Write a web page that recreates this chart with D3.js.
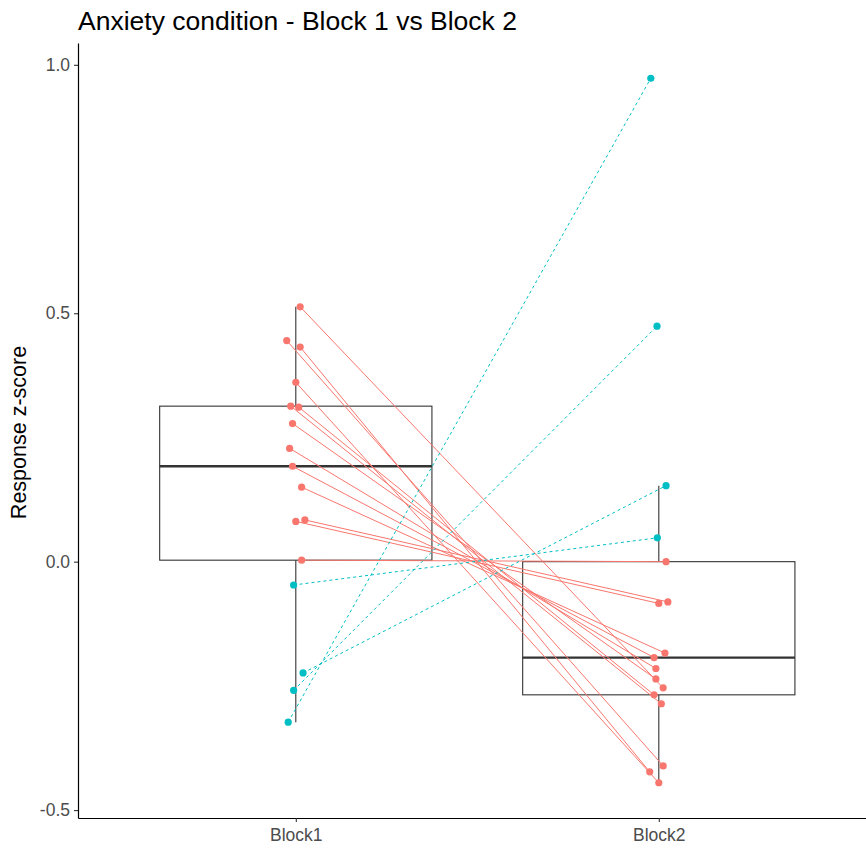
<!DOCTYPE html>
<html>
<head>
<meta charset="utf-8">
<script src="https://cdn.jsdelivr.net/npm/d3@7"></script>
<style>
  body { margin: 0; background: #fff; }
  svg { display: block; font-family: "Liberation Sans", Arial, sans-serif; }
</style>
</head>
<body>
<svg id="chart" width="866" height="850"></svg>
<script>
// values, one entry per subject (Block1 -> Block2)
var categories = ['Block1', 'Block2'];
var block1 = [0.513, 0.445, 0.432, 0.361, 0.313, 0.311, 0.278, 0.228, 0.192, 0.150, 0.081, 0.084, 0.003,
              -0.047, -0.224, -0.259, -0.323];
var block2 = [-0.254, -0.411, -0.423, -0.445, -0.286, -0.268, -0.236, -0.215, -0.193, -0.184, -0.084, -0.081, 0.000,
              0.048, 0.153, 0.474, 0.973];
// horizontal jitter of each point, in category units
var jitter1 = [0.012, -0.025, 0.012, 0.000, -0.014, 0.008, -0.009, -0.017, -0.009, 0.016, 0.000, 0.025, 0.016,
               -0.006, 0.020, -0.006, -0.021];
var jitter2 = [0.012, 0.012, -0.025, 0.000, 0.007, -0.013, -0.008, -0.008, -0.013, 0.017, 0.000, 0.025, 0.020,
               -0.004, 0.020, -0.005, -0.022];
var yTicks = [-0.5, 0, 0.5, 1.0];
var yTickLabels = ['-0.5', '0.0', '0.5', '1.0'];
var colours = { down: '#F8766D', up: '#00BFC4' };

(function () {
  var svg = d3.select('#chart'),
      mLeft = 78, mTop = 43, mBottom = 818;

  var all = block1.concat(block2),
      ext = d3.extent(all),
      pad = (ext[1] - ext[0]) * 0.05;

  var x = d3.scaleLinear().domain([0.4, 2.6]).range([mLeft, mLeft + 2.2 * 363]);
  var y = d3.scaleLinear().domain([ext[0] - pad, ext[1] + pad]).range([mBottom, mTop]);

  // boxplots (R type-7 quantiles, whiskers to 1.5 IQR)
  var boxes = [block1, block2].map(function (vals, i) {
    var s = vals.slice().sort(d3.ascending),
        q1 = d3.quantile(s, 0.25), med = d3.quantile(s, 0.5), q3 = d3.quantile(s, 0.75),
        iqr = q3 - q1,
        lo = d3.min(s.filter(function (v) { return v >= q1 - 1.5 * iqr; })),
        hi = d3.max(s.filter(function (v) { return v <= q3 + 1.5 * iqr; }));
    return { pos: i + 1, q1: q1, med: med, q3: q3, lo: lo, hi: hi };
  });

  var bx = svg.append('g').selectAll('g').data(boxes).enter().append('g');
  bx.append('line')
    .attr('x1', function (d) { return x(d.pos); }).attr('x2', function (d) { return x(d.pos); })
    .attr('y1', function (d) { return y(d.q3); }).attr('y2', function (d) { return y(d.hi); })
    .attr('stroke', '#333').attr('stroke-width', 1.1);
  bx.append('line')
    .attr('x1', function (d) { return x(d.pos); }).attr('x2', function (d) { return x(d.pos); })
    .attr('y1', function (d) { return y(d.q1); }).attr('y2', function (d) { return y(d.lo); })
    .attr('stroke', '#333').attr('stroke-width', 1.1);
  bx.append('rect')
    .attr('x', function (d) { return x(d.pos - 0.375); })
    .attr('width', function (d) { return x(d.pos + 0.375) - x(d.pos - 0.375); })
    .attr('y', function (d) { return y(d.q3); })
    .attr('height', function (d) { return y(d.q1) - y(d.q3); })
    .attr('fill', '#fff').attr('stroke', '#333').attr('stroke-width', 1.1);
  bx.append('line')
    .attr('x1', function (d) { return x(d.pos - 0.375); }).attr('x2', function (d) { return x(d.pos + 0.375); })
    .attr('y1', function (d) { return y(d.med); }).attr('y2', function (d) { return y(d.med); })
    .attr('stroke', '#333').attr('stroke-width', 2.3);

  // paired lines and points
  var subjects = block1.map(function (v, i) {
    return { a: v, b: block2[i], ja: jitter1[i], jb: jitter2[i], dir: block2[i] > v ? 'up' : 'down' };
  });

  svg.append('g').selectAll('line').data(subjects).enter().append('line')
    .attr('x1', function (d) { return x(1 + d.ja); }).attr('y1', function (d) { return y(d.a); })
    .attr('x2', function (d) { return x(2 + d.jb); }).attr('y2', function (d) { return y(d.b); })
    .attr('stroke', function (d) { return colours[d.dir]; })
    .attr('stroke-width', 1)
    .attr('stroke-dasharray', function (d) { return d.dir === 'up' ? '3,3' : null; });

  var pts = svg.append('g');
  pts.selectAll('.p1').data(subjects).enter().append('circle')
    .attr('cx', function (d) { return x(1 + d.ja); }).attr('cy', function (d) { return y(d.a); })
    .attr('r', 3.6).attr('fill', function (d) { return colours[d.dir]; });
  pts.selectAll('.p2').data(subjects).enter().append('circle')
    .attr('cx', function (d) { return x(2 + d.jb); }).attr('cy', function (d) { return y(d.b); })
    .attr('r', 3.6).attr('fill', function (d) { return colours[d.dir]; });

  // axes
  var yAxis = svg.append('g').attr('transform', 'translate(' + mLeft + ',0)')
    .call(d3.axisLeft(y).tickValues(yTicks).tickSize(4).tickSizeOuter(0).tickPadding(4)
      .tickFormat(function (d, i) { return yTickLabels[i]; }));
  var xAxis = svg.append('g').attr('transform', 'translate(0,' + mBottom + ')')
    .call(d3.axisBottom(x).tickValues([1, 2]).tickSize(4).tickSizeOuter(0).tickPadding(7)
      .tickFormat(function (d) { return categories[d - 1]; }));
  [yAxis, xAxis].forEach(function (a) {
    a.select('.domain').attr('stroke', '#000').attr('stroke-width', 1.2);
    a.selectAll('.tick line').attr('stroke', '#333').attr('stroke-width', 1.1);
    a.selectAll('.tick text').attr('fill', '#4D4D4D').style('font-size', '17.5px')
      .style('font-family', '"Liberation Sans", Arial, sans-serif');
  });

  svg.append('text')
    .attr('transform', 'translate(26,' + ((mTop + mBottom) / 2 + 2) + ') rotate(-90)')
    .attr('text-anchor', 'middle')
    .style('font-size', '21.5px')
    .text('Response z-score');

  svg.append('text')
    .attr('x', mLeft).attr('y', 30)
    .style('font-size', '26.5px')
    .text('Anxiety condition - Block 1 vs Block 2');
})();
</script>
</body>
</html>
